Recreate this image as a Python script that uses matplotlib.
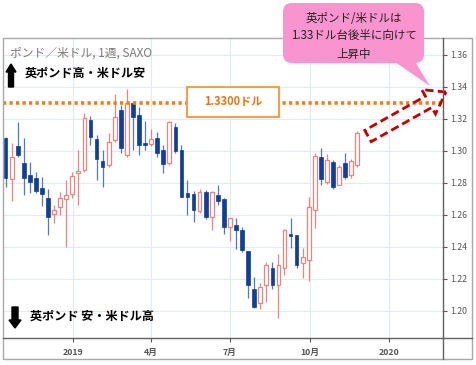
import numpy as np
import pandas as pd
import matplotlib
matplotlib.use("Agg")
import matplotlib.pyplot as plt
import matplotlib.dates as mdates
from matplotlib.patches import Rectangle, FancyBboxPatch, FancyArrow, Polygon

plt.rcParams['font.family'] = ['Noto Sans CJK JP', 'DejaVu Sans']

# weekly GBP/USD candles
weeks = pd.date_range("2018-10-15", periods=59, freq="7D")
opens = [1.308, 1.2825, 1.303, 1.2925, 1.285, 1.283, 1.277, 1.2706, 1.2606, 1.265,
         1.270, 1.273, 1.286, 1.288, 1.3194, 1.3075, 1.294, 1.291, 1.3069, 1.3256,
         1.2975, 1.330, 1.3225, 1.305, 1.3044, 1.308, 1.3006, 1.2925, 1.315, 1.3006,
         1.274, 1.273, 1.2625, 1.2744, 1.259, 1.2725, 1.270, 1.2525, 1.2538, 1.2506,
         1.2375, 1.2138, 1.205, 1.2163, 1.2269, 1.2163, 1.2269, 1.248, 1.2475, 1.230,
         1.2319, 1.263, 1.296, 1.2806, 1.293, 1.279, 1.2925, 1.285, 1.291]
highs = [1.309, 1.305, 1.318, 1.308, 1.293, 1.287, 1.284, 1.276, 1.266, 1.2744,
         1.282, 1.287, 1.3006, 1.324, 1.322, 1.310, 1.3006, 1.311, 1.3356, 1.329,
         1.339, 1.3306, 1.3275, 1.319, 1.3138, 1.312, 1.304, 1.319, 1.3175, 1.304,
         1.282, 1.275, 1.276, 1.2756, 1.275, 1.279, 1.2706, 1.258, 1.258, 1.2525,
         1.2375, 1.221, 1.2175, 1.2306, 1.2306, 1.2356, 1.2513, 1.258, 1.2475, 1.2394,
         1.2713, 1.299, 1.302, 1.298, 1.2944, 1.291, 1.299, 1.295, 1.3125]
lows = [1.2775, 1.269, 1.296, 1.2725, 1.274, 1.274, 1.2656, 1.2475, 1.255, 1.260,
        1.240, 1.2706, 1.266, 1.287, 1.304, 1.282, 1.2775, 1.290, 1.3056, 1.299,
        1.296, 1.3006, 1.2975, 1.3006, 1.303, 1.296, 1.286, 1.291, 1.299, 1.271,
        1.260, 1.2556, 1.261, 1.2575, 1.2506, 1.266, 1.248, 1.244, 1.239, 1.237,
        1.208, 1.202, 1.201, 1.2056, 1.2138, 1.1956, 1.2225, 1.2394, 1.227, 1.2206,
        1.2188, 1.252, 1.279, 1.2794, 1.276, 1.279, 1.2825, 1.283, 1.290]
closes = [1.283, 1.296, 1.2975, 1.283, 1.2806, 1.275, 1.273, 1.2588, 1.263, 1.2706,
          1.2725, 1.2844, 1.2875, 1.3206, 1.309, 1.295, 1.290, 1.3056, 1.321, 1.3019,
          1.330, 1.321, 1.3038, 1.304, 1.3075, 1.299, 1.292, 1.318, 1.300, 1.271,
          1.271, 1.263, 1.2744, 1.259, 1.2744, 1.269, 1.2525, 1.258, 1.2506, 1.238,
          1.2163, 1.2025, 1.215, 1.2288, 1.2163, 1.2288, 1.2506, 1.247, 1.2288, 1.2338,
          1.265, 1.297, 1.2825, 1.2944, 1.2775, 1.290, 1.284, 1.294, 1.311]

target = 1.33
tick_dates = ["2019-01-01", "2019-04-01", "2019-07-01", "2019-10-01", "2020-01-01"]
tick_labels = ["2019", "4月", "7月", "10月", "2020"]
y_ticks = [1.20, 1.22, 1.24, 1.26, 1.28, 1.30, 1.32, 1.34, 1.36]

W, H = 476, 365
fig = plt.figure(figsize=(W / 100, H / 100), dpi=100)
ax = fig.add_axes([3 / W, 1 - 338 / H, 440 / W, 300 / H])

x = mdates.date2num(weeks)
o = np.array(opens); c = np.array(closes)
up = c >= o
blue = "#0f3f96"
pink = "#e8857f"

ax.vlines(x[up], np.array(lows)[up], np.array(highs)[up], color=pink, lw=0.9, zorder=2)
ax.vlines(x[~up], np.array(lows)[~up], np.array(highs)[~up], color="#5577bb", lw=0.9, zorder=2)
bottoms = np.minimum(o, c)
heights = np.maximum(np.abs(c - o), 0.0008)
ax.bar(x[up], heights[up], bottom=bottoms[up], width=4.3, color="white",
       edgecolor=pink, linewidth=0.9, zorder=3)
ax.bar(x[~up], heights[~up], bottom=bottoms[~up], width=4.3, color=blue,
       edgecolor=blue, linewidth=0.5, zorder=3)

ax.axhline(target, color="#ee7d22", lw=2.6, ls=(0, (0.9, 0.9)), zorder=4)

ax.set_xlim(mdates.date2num(pd.Timestamp("2018-10-12")), mdates.date2num(pd.Timestamp("2020-03-03")))
ax.set_ylim(1.1831, 1.3706)
ax.set_xticks(mdates.date2num(pd.to_datetime(tick_dates)))
ax.set_xticklabels(tick_labels)
ax.set_yticks(y_ticks)
ax.set_yticklabels([f"{v:.2f}" for v in y_ticks])
ax.yaxis.tick_right()
ax.tick_params(axis="y", direction="out", length=3, width=0.8, color="#555555",
               labelsize=6.3, labelcolor="#555555", pad=2)
ax.tick_params(axis="x", direction="out", length=3, width=0.8, color="#555555",
               labelsize=6.3, labelcolor="#555555", pad=4)
for lab in ax.get_xticklabels():
    lab.set_fontweight("bold")
ax.grid(True, color="#e4eaf1", lw=0.8, zorder=0)
for s in ax.spines.values():
    s.set_visible(False)

# overlay in pixel coordinates for frame and annotations
ov = fig.add_axes([0, 0, 1, 1], zorder=10)
ov.set_xlim(0, W); ov.set_ylim(H, 0)
ov.axis("off")
ov.add_patch(Rectangle((3, 38), 469, 321, fill=False, ec="#a8a8a8", lw=1.0))
ov.plot([443, 443], [38, 359], color="#606060", lw=1.0)
ov.plot([3, 472], [338, 338], color="#606060", lw=1.0)

ov.text(10, 53, "ポンド／米ドル, 1週, SAXO", fontsize=8.5, color="#7a7a7a", va="center")
ov.add_patch(FancyArrow(11, 87, 0, -23, width=5, head_width=10, head_length=8,
                        length_includes_head=True, color="black"))
ov.text(25, 73, "英ポンド高・米ドル安", fontsize=8.7, fontweight="bold", color="black", va="center")
ov.add_patch(FancyArrow(15, 307, 0, 21, width=6, head_width=12, head_length=8,
                        length_includes_head=True, color="black"))
ov.text(30, 316, "英ポンド 安・米ドル高", fontsize=8.7, fontweight="bold", color="black", va="center")

ov.add_patch(Rectangle((187, 87), 92, 30, fc="white", ec="#f0a050", lw=1.5, zorder=5))
ov.text(233, 102, "1.3300ドル", fontsize=8, color="#e87418", fontweight="bold",
        ha="center", va="center", zorder=6)

# callout bubble
bubble_fc = "#f994cf"
ov.add_patch(Polygon([(392, 60), (414, 60), (430, 86)], closed=True, fc=bubble_fc, ec="none"))
ov.add_patch(FancyBboxPatch((283, 3), 141, 60, boxstyle="round,pad=0,rounding_size=9",
                            fc=bubble_fc, ec="none"))
for yy, line in zip([18, 36, 54], ["英ポンド/米ドルは", "1.33ドル台後半に向けて", "上昇中"]):
    ov.text(354, yy, line, fontsize=8.3, color="#222222", ha="center", va="center")

ov.add_patch(FancyArrow(368, 136, 78, -44, width=13, head_width=28, head_length=20,
                        length_includes_head=True, fill=False, ec="#c00000", lw=2,
                        ls=(0, (3, 1.5))))

fig.savefig("out.png", dpi=100)
